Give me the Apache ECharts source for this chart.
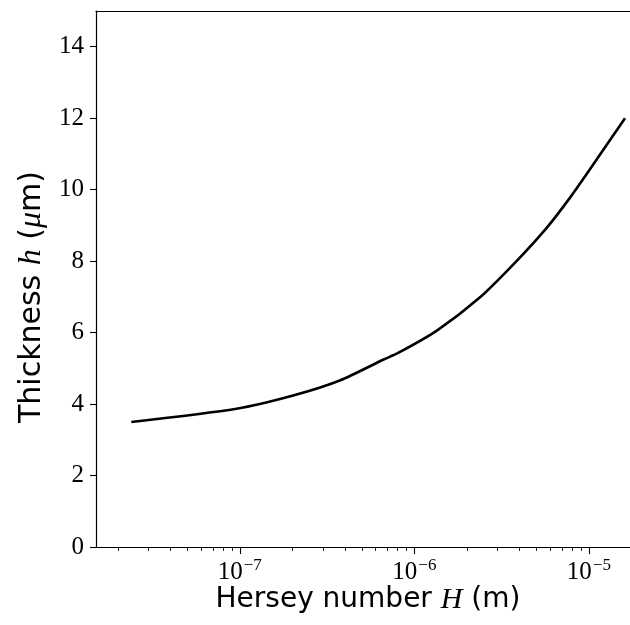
<!DOCTYPE html>
<html>
<head>
<meta charset="utf-8">
<script src="https://cdn.jsdelivr.net/npm/echarts@6/dist/echarts.min.js"></script>
<style>html,body{margin:0;padding:0;background:#fff;}#c{width:630px;height:625px;}</style>
</head>
<body>
<div id="c"></div>
<script>
// Data
const herseyH = [2.39e-8, 9.57e-8, 2.02e-7, 3.74e-7, 6.62e-7, 8.07e-7, 1.34e-6, 2.37e-6, 3.85e-6, 5.73e-6, 7.78e-6, 1.014e-5, 1.61e-5];
const thicknessH = [3.50, 3.87, 4.24, 4.66, 5.24, 5.43, 6.05, 6.98, 8.00, 8.93, 9.77, 10.57, 12.0];
const xMajorTicks = [1e-7, 1e-6, 1e-5];
const xMinorTicks = [2e-8,3e-8,4e-8,5e-8,6e-8,7e-8,8e-8,9e-8,
                     2e-7,3e-7,4e-7,5e-7,6e-7,7e-7,8e-7,9e-7,
                     2e-6,3e-6,4e-6,5e-6,6e-6,7e-6,8e-6,9e-6];
const yTicks = [0, 2, 4, 6, 8, 10, 12, 14];
const xRange = [1.5e-8, 1.72e-5];
const yRange = [0, 15];

const serif = 'Liberation Serif';
const sans = 'DejaVu Sans';
const chart = echarts.init(document.getElementById('c'), null, {renderer: 'canvas'});
const lineData = herseyH.map((v, i) => [v, thicknessH[i]]);

chart.setOption({
  animation: false,
  backgroundColor: '#fff',
  grid: {left: 96, top: 11, right: 0, height: 536, containLabel: false},
  xAxis: [
    {
      type: 'log', logBase: 10, min: xRange[0], max: xRange[1], position: 'bottom',
      axisLine: {show: true, lineStyle: {color: '#000', width: 1.2}},
      axisTick: {show: true, inside: false, length: 7, lineStyle: {color: '#000', width: 1.1}, customValues: xMajorTicks},
      minorTick: {show: false},
      splitLine: {show: false},
      axisLabel: {
        show: true, margin: 10, customValues: xMajorTicks,
        formatter: function (v) {
          const e = Math.round(Math.log10(v));
          return '{b|10}{s|' + (e < 0 ? '\u2212' + (-e) : e) + '}';
        },
        rich: {
          b: {fontFamily: serif, fontSize: 25, color: '#000', verticalAlign: 'bottom', lineHeight: 28},
          s: {fontFamily: serif, fontSize: 17, color: '#000', verticalAlign: 'bottom', lineHeight: 28, padding: [0, 0, 11, 1]}
        }
      }
    },
    {
      type: 'log', logBase: 10, min: xRange[0], max: xRange[1], position: 'bottom',
      axisLine: {show: false},
      axisTick: {show: true, inside: false, length: 4, lineStyle: {color: '#000', width: 0.9}, customValues: xMinorTicks},
      axisLabel: {show: false},
      splitLine: {show: false}
    },
    {
      type: 'log', logBase: 10, min: xRange[0], max: xRange[1], position: 'top',
      axisLine: {show: true, lineStyle: {color: '#000', width: 1.2}},
      axisTick: {show: false}, axisLabel: {show: false}, splitLine: {show: false}
    }
  ],
  yAxis: {
    type: 'value', min: yRange[0], max: yRange[1],
    axisLine: {show: true, lineStyle: {color: '#000', width: 1.2}},
    axisTick: {show: true, inside: false, length: 6, lineStyle: {color: '#000', width: 1.1}, customValues: yTicks},
    splitLine: {show: false},
    axisLabel: {show: true, customValues: yTicks, margin: 12, fontFamily: serif, fontSize: 25, color: '#000'}
  },
  graphic: [
    {
      type: 'text', x: 368, y: 600,
      style: {
        text: 'Hersey number {i|H} (m)', fill: '#000', align: 'center', verticalAlign: 'middle',
        font: '28px "' + sans + '"',
        rich: {i: {fontFamily: serif, fontStyle: 'italic', fontSize: 30, fill: '#000'}}
      }
    },
    {
      type: 'text', x: 32, y: 297, rotation: Math.PI / 2,
      style: {
        text: 'Thickness {i|h} ({i|\u03bc}m)', fill: '#000', align: 'center', verticalAlign: 'middle',
        font: '30px "' + sans + '"',
        rich: {i: {fontFamily: serif, fontStyle: 'italic', fontSize: 32, fill: '#000'}}
      }
    }
  ],
  series: [{
    type: 'line', xAxisIndex: 0, yAxisIndex: 0, data: lineData,
    showSymbol: false, symbol: 'none', smooth: 0.25,
    lineStyle: {color: '#000', width: 2.6}, clip: true
  }]
});
</script>
</body>
</html>
